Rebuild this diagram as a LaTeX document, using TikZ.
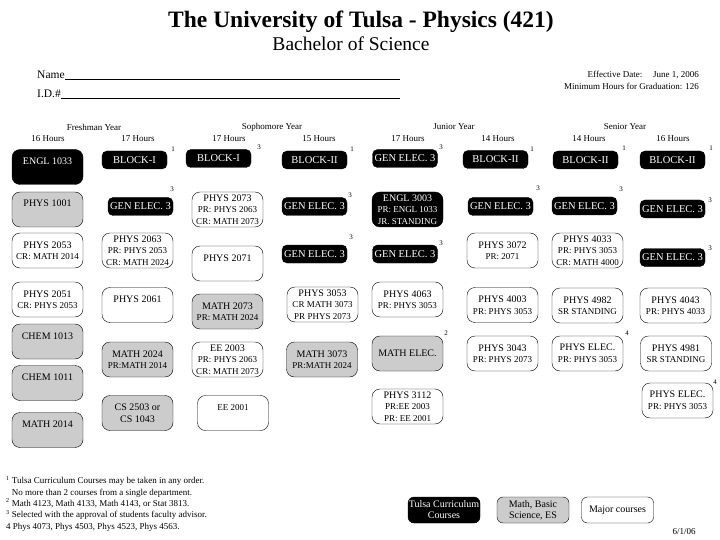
\documentclass[tikz,border=0pt]{standalone}
\usepackage{fontspec}
\setmainfont{Liberation Serif}
\usetikzlibrary{positioning}
\definecolor{scigray}{gray}{0.8}
\newcommand{\reqfont}{\fontsize{9}{10.5}\selectfont}

\begin{document}
\begin{tikzpicture}[
        x=1pt, y=-1pt,
        font=\fontsize{10}{11.5}\selectfont,
        box/.style={rectangle, rounded corners=8pt, draw, minimum width=71pt,
                    minimum height=35pt, inner sep=1.5pt, align=center},
        tulsa/.style={box, fill=black, text=white},
        sci/.style={box, fill=scigray},
        major/.style={box, fill=white},
        toptext/.style={text height=13pt, text depth=18pt, minimum height=0pt, inner ysep=2pt},
        pill/.style={rectangle, rounded corners=5pt, draw, fill=black, text=white,
                     minimum width=65pt, minimum height=18pt, inner sep=1pt,
                     font=\fontsize{10.5}{12}\selectfont},
        sup/.style={font=\fontsize{7}{8}\selectfont, inner sep=0pt},
        hdr/.style={font=\fontsize{9}{10}\selectfont, inner sep=0pt},
        legend/.style={minimum width=72pt, minimum height=26pt, rounded corners=6pt,
                       inner xsep=0pt, font=\fontsize{10}{11}\selectfont}
    ]
        \useasboundingbox (0,0) rectangle (720,540);

        % title block
        \node[font=\fontsize{23.5}{26}\selectfont\bfseries] (title) at (361,22) {The University of Tulsa - Physics (421)};
        \node[font=\fontsize{19.5}{22}\selectfont] (degree) at (351,44) {Bachelor of Science};
        \node[anchor=base west, inner sep=0pt, font=\fontsize{11.5}{13}\selectfont] (namelbl) at (37,79) {Name};
        \node[anchor=base west, inner sep=0pt, font=\fontsize{11.5}{13}\selectfont] (idlbl) at (37,98) {I.D.\#};
        \coordinate (nameend) at (400,79);
        \coordinate (idend) at (400,98);
        \draw (namelbl.base east) -- (nameend);
        \draw (idlbl.base east) -- (idend);
        \node[anchor=base east, inner sep=0pt, font=\fontsize{9}{10}\selectfont] (effdate) at (699,78) {Effective Date:\hspace{1.2em}June 1, 2006};
        \node[anchor=base east, inner sep=0pt, font=\fontsize{9}{10}\selectfont] (minhours) at (699,90) {Minimum Hours for Graduation: 126};

        % year and hour headings
        \node[hdr] (fresh) at (94,127) {Freshman Year};
        \node[hdr] (soph) at (272,127) {Sophomore Year};
        \node[hdr] (junior) at (454,127) {Junior Year};
        \node[hdr] (senior) at (625,127) {Senior Year};
        \node[hdr] (h1) at (48,139) {16 Hours};
        \node[hdr] (h2) at (138,139) {17 Hours};
        \node[hdr] (h3) at (229,139) {17 Hours};
        \node[hdr] (h4) at (319,139) {15 Hours};
        \node[hdr] (h5) at (408,139) {17 Hours};
        \node[hdr] (h6) at (498,139) {14 Hours};
        \node[hdr] (h7) at (589,139) {14 Hours};
        \node[hdr] (h8) at (673,139) {16 Hours};

        % freshman, first semester
        \node[tulsa, toptext] (engl1033) at (47.5,167) {ENGL 1033};
        \node[sci, toptext] (phys1001) at (47.5,209.5) {PHYS 1001};
        \node[major] (phys2053) at (47.5,250.5) {PHYS 2053\\\reqfont CR: MATH 2014};
        \node[major] (phys2051) at (47.5,299.5) {PHYS 2051\\\reqfont CR: PHYS 2053};
        \node[sci, toptext] (chem1013) at (47.5,341.5) {CHEM 1013};
        \node[sci, toptext] (chem1011) at (47.5,383) {CHEM 1011};
        \node[sci, toptext] (math2014) at (47.5,430) {MATH 2014};

        % freshman, second semester
        \node[pill] (blockIa) at (134.5,160) {BLOCK-I};
        \node[pill] (genA) at (140.5,206.5) {GEN ELEC. 3};
        \node[major] (phys2063) at (137.5,250.5) {PHYS 2063\\\reqfont PR: PHYS 2053\\\reqfont CR: MATH 2024};
        \node[major, toptext] (phys2061) at (137.5,305) {PHYS 2061};
        \node[sci] (math2024) at (137.5,359.5) {MATH 2024\\\reqfont PR:MATH 2014};
        \node[sci] (cs2503) at (137.5,413) {CS 2503 or\\CS 1043};

        % sophomore, first semester
        \node[pill] (blockIb) at (218.5,158.5) {BLOCK-I};
        \node[major] (phys2073) at (227.5,209.5) {PHYS 2073\\\reqfont PR: PHYS 2063\\\reqfont CR: MATH 2073};
        \node[major, toptext] (phys2071) at (227.5,263.5) {PHYS 2071};
        \node[sci] (math2073) at (227.5,311.5) {MATH 2073\\\reqfont PR: MATH 2024};
        \node[major] (ee2003) at (227.5,359.5) {EE 2003\\\reqfont PR: PHYS 2063\\\reqfont CR: MATH 2073};
        \node[major, toptext] (ee2001) at (233,413) {\reqfont EE 2001};

        % sophomore, second semester
        \node[pill] (blockIIa) at (314.5,160) {BLOCK-II};
        \node[pill] (genB) at (314.5,206.5) {GEN ELEC. 3};
        \node[pill] (genC) at (314.5,254) {GEN ELEC. 3};
        \node[major] (phys3053) at (322.5,304.5) {PHYS 3053\\\reqfont CR MATH 3073\\\reqfont PR PHYS 2073};
        \node[sci] (math3073) at (322,359.5) {MATH 3073\\\reqfont PR:MATH 2024};

        % junior, first semester
        \node[pill] (genD) at (405,158.5) {GEN ELEC. 3};
        \node[tulsa] (engl3003) at (407.5,209.5) {ENGL 3003\\\reqfont PR: ENGL 1033\\\reqfont JR. STANDING};
        \node[pill] (genE) at (405,254) {GEN ELEC. 3};
        \node[major] (phys4063) at (407.5,299.5) {PHYS 4063\\\reqfont PR: PHYS 3053};
        \node[sci] (mathelec) at (407.5,353.5) {MATH ELEC.};
        \node[major] (phys3112) at (407.5,406.5) {PHYS 3112\\\reqfont PR:EE 2003\\\reqfont PR: EE 2001};

        % junior, second semester
        \node[pill] (blockIIb) at (495.5,159.5) {BLOCK-II};
        \node[pill] (genF) at (500.5,206.5) {GEN ELEC. 3};
        \node[major] (phys3072) at (502.5,250.5) {PHYS 3072\\\reqfont PR: 2071};
        \node[major] (phys4003) at (502.5,305) {PHYS 4003\\\reqfont PR: PHYS 3053};
        \node[major] (phys3043) at (502.5,353.5) {PHYS 3043\\\reqfont PR: PHYS 2073};

        % senior, first semester
        \node[pill] (blockIIc) at (585.5,160) {BLOCK-II};
        \node[pill] (genG) at (584.5,206) {GEN ELEC. 3};
        \node[major] (phys4033) at (587.5,250.5) {PHYS 4033\\\reqfont PR: PHYS 3053\\\reqfont CR: MATH 4000};
        \node[major] (phys4982) at (587.5,305.5) {PHYS 4982\\\reqfont SR STANDING};
        \node[major] (physelecA) at (587.5,353.5) {PHYS ELEC.\\\reqfont PR: PHYS 3053};

        % senior, second semester
        \node[pill] (blockIId) at (672.5,160) {BLOCK-II};
        \node[pill] (genH) at (672.5,209) {GEN ELEC. 3};
        \node[pill] (genI) at (672.5,257.5) {GEN ELEC. 3};
        \node[major] (phys4043) at (675.5,305.5) {PHYS 4043\\\reqfont PR: PHYS 4033};
        \node[major] (phys4981) at (676,353.5) {PHYS 4981\\\reqfont SR STANDING};
        \node[major] (physelecB) at (677.5,400.5) {PHYS ELEC.\\\reqfont PR: PHYS 3053};

        % footnote marks
        \node[sup] (m1) at (173,149) {1};
        \node[sup] (m2) at (172,189) {3};
        \node[sup] (m3) at (259,147) {3};
        \node[sup] (m4) at (352,149) {1};
        \node[sup] (m5) at (350,195) {3};
        \node[sup] (m6) at (351,237) {3};
        \node[sup] (m7) at (441,147) {3};
        \node[sup] (m8) at (441,243) {3};
        \node[sup] (m9) at (446,333) {2};
        \node[sup] (m10) at (532,149) {1};
        \node[sup] (m11) at (538,188) {3};
        \node[sup] (m12) at (624,148) {1};
        \node[sup] (m13) at (621,189) {3};
        \node[sup] (m14) at (627,333) {4};
        \node[sup] (m15) at (711,148) {1};
        \node[sup] (m16) at (710,200) {3};
        \node[sup] (m17) at (710,248) {3};
        \node[sup] (m18) at (715,382) {4};

        % notes and legend
        \node[anchor=north west, align=left, inner sep=0pt, font=\fontsize{9}{11.3}\selectfont] (notes) at (6,476)
            {\textsuperscript{1} Tulsa Curriculum Courses may be taken in any order.\\
             \phantom{\textsuperscript{1} }No more than 2 courses from a single department.\\
             \textsuperscript{2} Math 4123, Math 4133, Math 4143, or Stat 3813.\\
             \textsuperscript{3} Selected with the approval of students faculty advisor.\\
             4 Phys 4073, Phys 4503, Phys 4523, Phys 4563.};
        \node[tulsa, legend] (legtulsa) at (444,510) {Tulsa Curriculum\\Courses};
        \node[sci, legend] (legsci) at (533,510) {Math, Basic\\Science, ES};
        \node[major, legend] (legmajor) at (617.5,510) {Major courses};
        \node[hdr] (revdate) at (684,532) {6/1/06};
    \end{tikzpicture}
\end{document}
